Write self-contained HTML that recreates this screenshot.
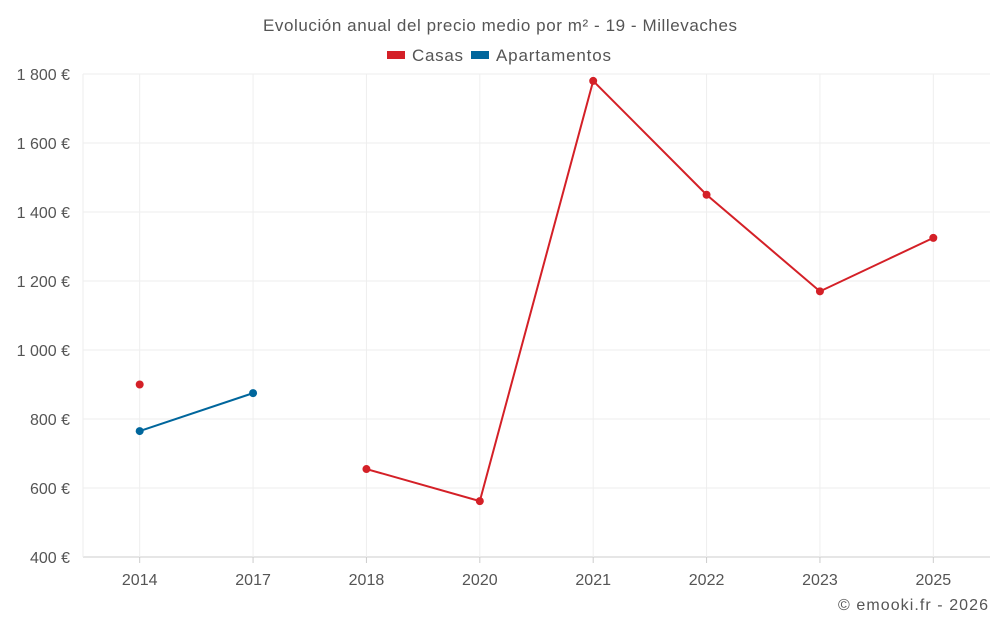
<!DOCTYPE html>
<html><head><meta charset="utf-8"><style>
body{margin:0;background:#fff;font-family:"Liberation Sans",sans-serif;}
svg text{font-family:"Liberation Sans",sans-serif;fill:#555;}
</style></head><body>
<svg id="c" width="1000" height="625">
<text x="500" y="31" text-anchor="middle" font-size="17" textLength="474" lengthAdjust="spacing">Evolución anual del precio medio por m² - 19 - Millevaches</text>
<g>
<rect x="387" y="51" width="18" height="8" fill="#d42027"/>
<text x="412" y="61" font-size="17" textLength="51" lengthAdjust="spacing">Casas</text>
<rect x="471" y="51" width="18" height="8" fill="#00669c"/>
<text x="496" y="61" font-size="17" textLength="115" lengthAdjust="spacing">Apartamentos</text>
</g>
<text x="988" y="610" text-anchor="end" font-size="16" textLength="150" lengthAdjust="spacing">© emooki.fr - 2026</text>
</svg>
<script>
const categories=['2014','2017','2018','2020','2021','2022','2023','2025'];
const casas=[900,null,655,562,1780,1450,1170,1325];
const apartamentos=[765,875,null,null,null,null,null,null];
const yTicks=[400,600,800,1000,1200,1400,1600,1800];
const yTickLabels=['400 €','600 €','800 €','1 000 €','1 200 €','1 400 €','1 600 €','1 800 €'];
const L=83,R=990,T=74,B=557,ymin=400,ymax=1800;
const NS='http://www.w3.org/2000/svg',svg=document.getElementById('c');
const bw=(R-L)/categories.length;
const x=i=>L+bw*(i+0.5);
const y=v=>B-(v-ymin)/(ymax-ymin)*(B-T);
function mk(t,a,p){const e=document.createElementNS(NS,t);for(const k in a)e.setAttribute(k,a[k]);(p||svg).appendChild(e);return e;}
const grid=mk('g',{});


yTicks.forEach((v,i)=>{
 const ln=mk('line',{x1:L,x2:R,y1:y(v),y2:y(v),stroke:i==0?'#ccc':'#eee'},grid);
 
 
 const t=mk('text',{x:70,y:y(v)+6,'text-anchor':'end','font-size':16});
 t.textContent=yTickLabels[i];
 
 
});
const vl=mk('line',{x1:L,x2:L,y1:T,y2:B,stroke:'#eee'},grid);


categories.forEach((c,i)=>{
 const ln=mk('line',{x1:x(i),x2:x(i),y1:T,y2:B,stroke:'#eee'},grid);
 
 
 const tk=mk('line',{x1:x(i),x2:x(i),y1:B,y2:B+6,stroke:'#ccc'},grid);
 
 
 const t=mk('text',{x:x(i),y:B+28,'text-anchor':'middle','font-size':16});
 t.textContent=c;
 
 
});
function series(vals,color,name){
 const g=mk('g',{});
 
 
 let d='',pen=false;
 vals.forEach((v,i)=>{if(v==null){pen=false;return;}d+=(pen?'L':'M')+x(i)+','+y(v)+' ';pen=true;});
 const p=mk('path',{d:d,fill:'none',stroke:color,'stroke-width':2},g);
 
 
 vals.forEach((v,i)=>{if(v==null)return;
  const c=mk('circle',{cx:x(i),cy:y(v),r:4,fill:color},g);
  
  
 });
}
series(casas,'#d42027','casas');
series(apartamentos,'#00669c','apartamentos');
</script>
</body></html>
